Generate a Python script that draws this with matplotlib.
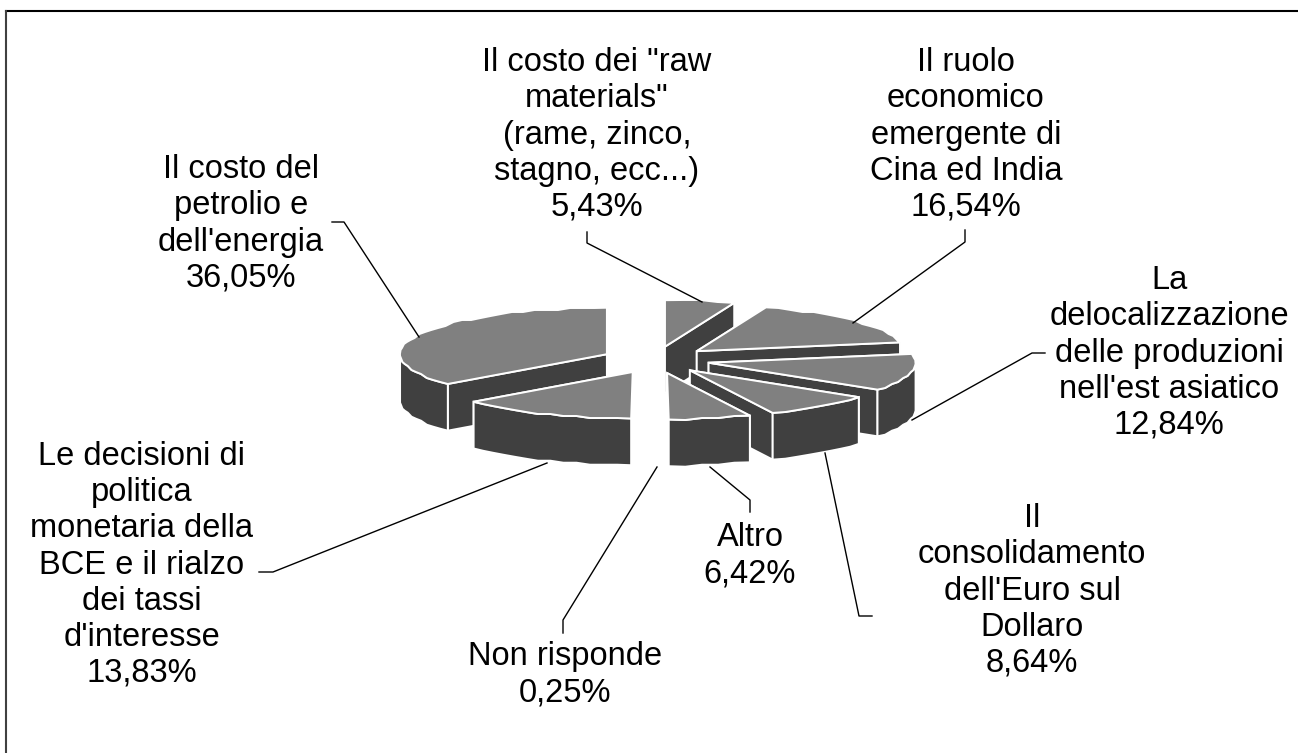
"""Exploded pseudo-3D pie of the survey answers."""

import matplotlib

matplotlib.use("Agg")  # headless
import matplotlib.pyplot as plt  # noqa: E402
from matplotlib.patches import Polygon  # noqa: E402
import numpy as np  # noqa: E402

plt.rcParams["font.family"] = ["Liberation Sans", "DejaVu Sans"]

# clockwise from 12 o'clock
labels = [
    "Il costo dei \"raw\nmaterials\"\n(rame, zinco,\nstagno, ecc...)",
    "Il ruolo\neconomico\nemergente di\nCina ed India",
    "La\ndelocalizzazione\ndelle produzioni\nnell'est asiatico",
    "Il\nconsolidamento\ndell'Euro sul\nDollaro",
    "Altro",
    "Non risponde",
    "Le decisioni di\npolitica\nmonetaria della\nBCE e il rialzo\ndei tassi\nd'interesse",
    "Il costo del\npetrolio e\ndell'energia",
]
values = [5.43, 16.54, 12.84, 8.64, 6.42, 0.25, 13.83, 36.05]
value_text = ["5,43%", "16,54%", "12,84%", "8,64%", "6,42%", "0,25%", "13,83%", "36,05%"]

# layout, in figure pixels
label_x = [597, 966, 1169, 1032, 750, 565, 142, 241]
label_y = [135, 135, 353, 591, 556, 675, 565, 224]
leaders = [
    [(587, 232), (587, 243), (702, 302)],
    [(965, 230), (965, 242), (853, 323)],
    [(1045, 353), (1032, 353), (912, 420)],
    [(872, 616), (859, 616), (825, 453)],
    [(750, 512), (750, 500), (710, 467)],
    [(563, 633), (563, 620), (657, 467)],
    [(259, 572), (273, 572), (547, 463)],
    [(332, 222), (344, 222), (419, 337)],
]

CX, CY = 655.8, 359.9
RX, RY = 207, 46.5
EXPLODE_X, EXPLODE_Y = 54, 13.4
DEPTH = 46.7
TOP_COLOR = "#808080"
SIDE_COLOR = "#404040"


def rim(a0, a1, ax0, ay0):
    """Outer arc of a slice, with the coarse stepping of the low-res original."""
    n = max(2, int(np.radians(a1 - a0) * RX / 12))
    t = np.radians(np.linspace(a0, a1, n))
    x = ax0 + RX * np.sin(t)
    y = ay0 - RY * np.cos(t)
    y[1:-1] = np.round(y[1:-1] / 2) * 2
    return np.column_stack([x, y])


fig = plt.figure(figsize=(12.98, 7.53), dpi=100)
ax = fig.add_axes([0, 0, 1, 1])
ax.set_xlim(0, 1298)
ax.set_ylim(753, 0)
ax.axis("off")

# frame: only the top and left sides are visible
ax.plot([1298, 6], [11, 11], color="black", lw=1.5, zorder=1)
ax.plot([6, 6], [11, 752], color="#404040", lw=1.5, zorder=1)

fractions = np.array(values) / sum(values)
ends = np.cumsum(fractions) * 360
starts = ends - fractions * 360
mids = (starts + ends) / 2

# back slices first so the nearer ones cover them
order = np.argsort(-np.cos(np.radians(mids)))
for rank, i in enumerate(order):
    apex_x = CX + EXPLODE_X * np.sin(np.radians(mids[i]))
    apex_y = CY - EXPLODE_Y * np.cos(np.radians(mids[i]))
    arc = rim(starts[i], ends[i], apex_x, apex_y)
    apex = np.array([apex_x, apex_y])
    down = np.array([0, DEPTH])
    z = 10 + 3 * rank
    # a sliver this thin disappears under its white outline, as in the original
    lw = 5 if values[i] < 1 else 1.4

    walls = [
        np.array([apex, arc[0], arc[0] + down, apex + down]),
        np.array([apex, arc[-1], arc[-1] + down, apex + down]),
    ]
    angles = np.linspace(starts[i], ends[i], len(arc))
    front = (angles > 90) & (angles < 270)
    if front.any():
        part = arc[front]
        walls.append(np.vstack([part, (part + down)[::-1]]))
    walls.sort(key=lambda w: w[:, 1].mean())
    for w in walls:
        ax.add_patch(Polygon(w, closed=True, facecolor=SIDE_COLOR, edgecolor="white", lw=lw, zorder=z))
    ax.add_patch(Polygon(np.vstack([apex, arc]), closed=True, facecolor=TOP_COLOR,
                         edgecolor="white", lw=lw, zorder=z + 1))

for seg in leaders:
    xs, ys = zip(*seg)
    ax.plot(xs, ys, color="black", lw=1, zorder=60)

for name, pct, x, y in zip(labels, value_text, label_x, label_y):
    ax.text(x, y, name + "\n" + pct, ha="center", va="center", fontsize=23.5,
            linespacing=1.21, color="black", zorder=70)

fig.savefig("out.png", dpi=100)
plt.close(fig)
